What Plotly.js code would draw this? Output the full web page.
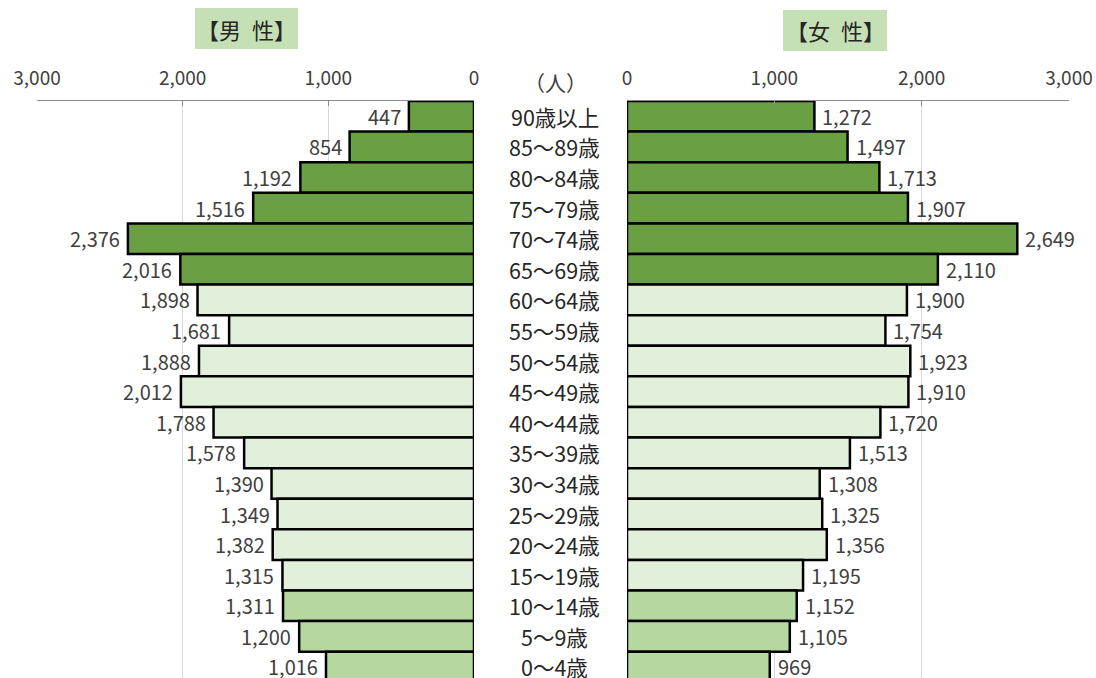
<!DOCTYPE html>
<html><head><meta charset="utf-8">
<script src="https://cdn.plot.ly/plotly-3.0.1.min.js"></script>
<style>html,body{margin:0;padding:0;background:#fff;}#chart{width:1096px;height:678px;}</style>
</head><body><div id="chart"></div>
<script>
const ageGroups = ["90歳以上","85～89歳","80～84歳","75～79歳","70～74歳","65～69歳","60～64歳","55～59歳","50～54歳","45～49歳","40～44歳","35～39歳","30～34歳","25～29歳","20～24歳","15～19歳","10～14歳","5～9歳","0～4歳"];
const male = [447,854,1192,1516,2376,2016,1898,1681,1888,2012,1788,1578,1390,1349,1382,1315,1311,1200,1016];
const female = [1272,1497,1713,1907,2649,2110,1900,1754,1923,1910,1720,1513,1308,1325,1356,1195,1152,1105,969];
const groupType = ["old","old","old","old","old","old","work","work","work","work","work","work","work","work","work","work","young","young","young"];
const tickVals = [0,1000,2000,3000];
const maleTitle = "【男\u2002性】";
const femaleTitle = "【女\u2002性】";
const unitLabel = "（人）";

const colorMap = {old:"#6a9f44", work:"#e2efda", young:"#b5d7a0"};
const colors = groupType.map(t => colorMap[t]);
const FONT = "'Noto Sans CJK JP', 'Noto Sans', sans-serif";
const TXT = "#404040";
const fmt = v => v.toLocaleString("en-US");
const H = 678, T = 101, PH = H - T;
const py = p => (H - p) / PH;

const traces = [
  {type:"bar", orientation:"h", x:male, y:ageGroups, xaxis:"x", yaxis:"y",
   marker:{color:colors, line:{color:"#000", width:2.5}}, hoverinfo:"x"},
  {type:"bar", orientation:"h", x:female, y:ageGroups, xaxis:"x2", yaxis:"y",
   marker:{color:colors, line:{color:"#000", width:2.5}}, hoverinfo:"x"}
];

const annotations = [];
ageGroups.forEach((g,i) => {
  annotations.push({xref:"x", yref:"y", x:male[i], y:g, text:fmt(male[i]), showarrow:false,
    xanchor:"right", xshift:-6, font:{family:FONT, size:20, color:TXT}});
  annotations.push({xref:"x2", yref:"y", x:female[i], y:g, text:fmt(female[i]), showarrow:false,
    xanchor:"left", xshift:6, font:{family:FONT, size:20, color:TXT}});
  annotations.push({xref:"paper", yref:"y", x:0.506, y:g, text:g, showarrow:false,
    xanchor:"center", font:{family:FONT, size:21.5, color:"#262626"}});
});
annotations.push({xref:"paper", yref:"paper", x:555/1096, y:py(82), yanchor:"middle", xanchor:"center",
  text:unitLabel, showarrow:false, font:{family:FONT, size:21, color:TXT}});
annotations.push({xref:"paper", yref:"paper", x:246.5/1096, y:py(29), yanchor:"middle", xanchor:"center",
  text:maleTitle, showarrow:false, font:{family:FONT, size:22, color:"#262626"}});
annotations.push({xref:"paper", yref:"paper", x:835/1096, y:py(30), yanchor:"middle", xanchor:"center",
  text:femaleTitle, showarrow:false, font:{family:FONT, size:22, color:"#262626"}});

const axisCommon = {side:"top", tickvals:tickVals, ticktext:tickVals.map(fmt), showgrid:true, gridcolor:"#d9d9d9",
  gridwidth:1.3, zeroline:false, showline:true, linecolor:"#8c8c8c", linewidth:1, ticks:"inside", ticklen:5,
  tickcolor:"#8c8c8c", tickfont:{family:FONT, size:19, color:TXT}, ticklabelstandoff:7, fixedrange:true};

const layout = {
  width:1096, height:678, margin:{l:0, r:0, t:T, b:0}, paper_bgcolor:"#fff", plot_bgcolor:"#fff",
  showlegend:false, bargap:0,
  xaxis:Object.assign({}, axisCommon, {domain:[37/1096, 474/1096], range:[3000,0], anchor:"y"}),
  xaxis2:Object.assign({}, axisCommon, {domain:[627/1096, 1069/1096], range:[0,3000], anchor:"y"}),
  yaxis:{type:"category", range:[18.36,-0.5], showticklabels:false, showgrid:false, zeroline:false, showline:false, ticks:"", fixedrange:true},
  shapes:[
    {type:"rect", xref:"paper", yref:"paper", x0:195/1096, x1:298/1096, y0:py(49), y1:py(8), fillcolor:"#c5e0b4", line:{width:0}, layer:"below"},
    {type:"rect", xref:"paper", yref:"paper", x0:783/1096, x1:887/1096, y0:py(51), y1:py(10), fillcolor:"#c5e0b4", line:{width:0}, layer:"below"}
  ],
  annotations:annotations
};
Plotly.newPlot("chart", traces, layout, {displayModeBar:false, staticPlot:true});
</script></body></html>
